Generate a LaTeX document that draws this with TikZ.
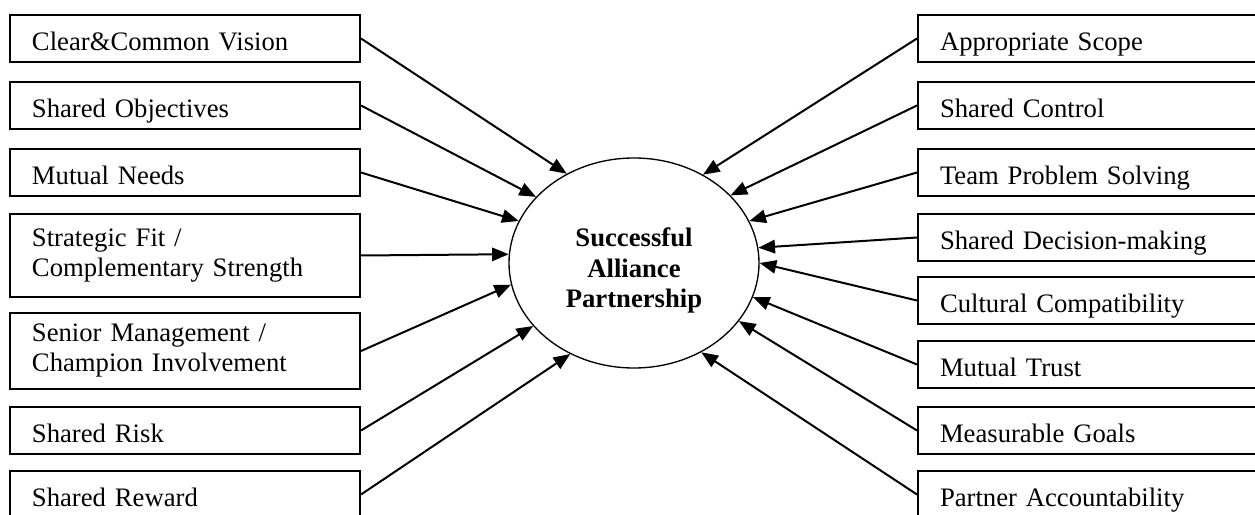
\documentclass[tikz,border=0pt]{standalone}
\usepackage{fontspec}
\setmainfont{Liberation Serif}
\usetikzlibrary{shapes.geometric,arrows.meta}
\begin{document}
\begin{tikzpicture}[x=0.45pt,y=-0.45pt]

\tikzstyle{factor} = [draw,line width=0.9pt,anchor=north west,inner xsep=9.9pt,inner ysep=0,text width=137.7pt,align=left,minimum height=21.15pt,font=\fontsize{12}{13.5}\selectfont]
\tikzstyle{oneline} = [factor,text height=13pt,text depth=2pt]
\tikzstyle{hubstyle} = [draw,ellipse,line width=0.6pt,inner sep=0,minimum width=112.5pt,minimum height=94.5pt,align=center,font=\fontsize{12}{13.7}\selectfont\bfseries]
\tikzstyle{link} = [line width=0.9pt,-{Triangle[length=7.5pt,width=6pt]}]

\useasboundingbox (0,0) rectangle (1255,515);

\node [hubstyle] (hub) at (634,263) {\rule{0pt}{15.5pt}Successful\\Alliance\\Partnership};

% left column
\node [oneline] (l1) at (9,14) {Clear\&Common Vision};
\node [oneline] (l2) at (9,81) {Shared Objectives};
\node [oneline] (l3) at (9,148) {Mutual Needs};
\node [factor,minimum height=37.35pt] (l4) at (9,213) {Strategic Fit /\\Complementary Strength};
\node [factor,minimum height=34.2pt] (l5) at (9,312) {Senior Management /\\Champion Involvement};
\node [oneline] (l6) at (9,406) {Shared Risk};
\node [oneline] (l7) at (9,470) {Shared Reward};

% right column
\node [oneline] (r1) at (917,14) {Appropriate Scope};
\node [oneline] (r2) at (917,81) {Shared Control};
\node [oneline] (r3) at (917,148) {Team Problem Solving};
\node [oneline] (r4) at (917,213) {Shared Decision-making};
\node [oneline] (r5) at (917,276) {Cultural Compatibility};
\node [oneline] (r6) at (917,340) {Mutual Trust};
\node [oneline] (r7) at (917,406) {Measurable Goals};
\node [oneline] (r8) at (917,470) {Partner Accountability};

\draw (l1.east) edge [link] (hub.127);
\draw (l2.east) edge [link] (hub.146);
\draw (l3.east) edge [link] (hub.160);
\draw (l4.east) edge [link] (hub.176);
\draw (l5.east) edge [link] (hub.190);
\draw (l6.east) edge [link] (hub.212);
\draw (l7.east) edge [link] (hub.235);

\draw (r1.west) edge [link] (hub.52);
\draw (r2.west) edge [link] (hub.35);
\draw (r3.west) edge [link] (hub.20);
\draw (r4.west) edge [link] (hub.7);
\draw (r5.west) edge [link] (hub.0);
\draw (r6.west) edge [link] (hub.344);
\draw (r7.west) edge [link] (hub.331);
\draw (r8.west) edge [link] (hub.307);
\end{tikzpicture}
\end{document}
